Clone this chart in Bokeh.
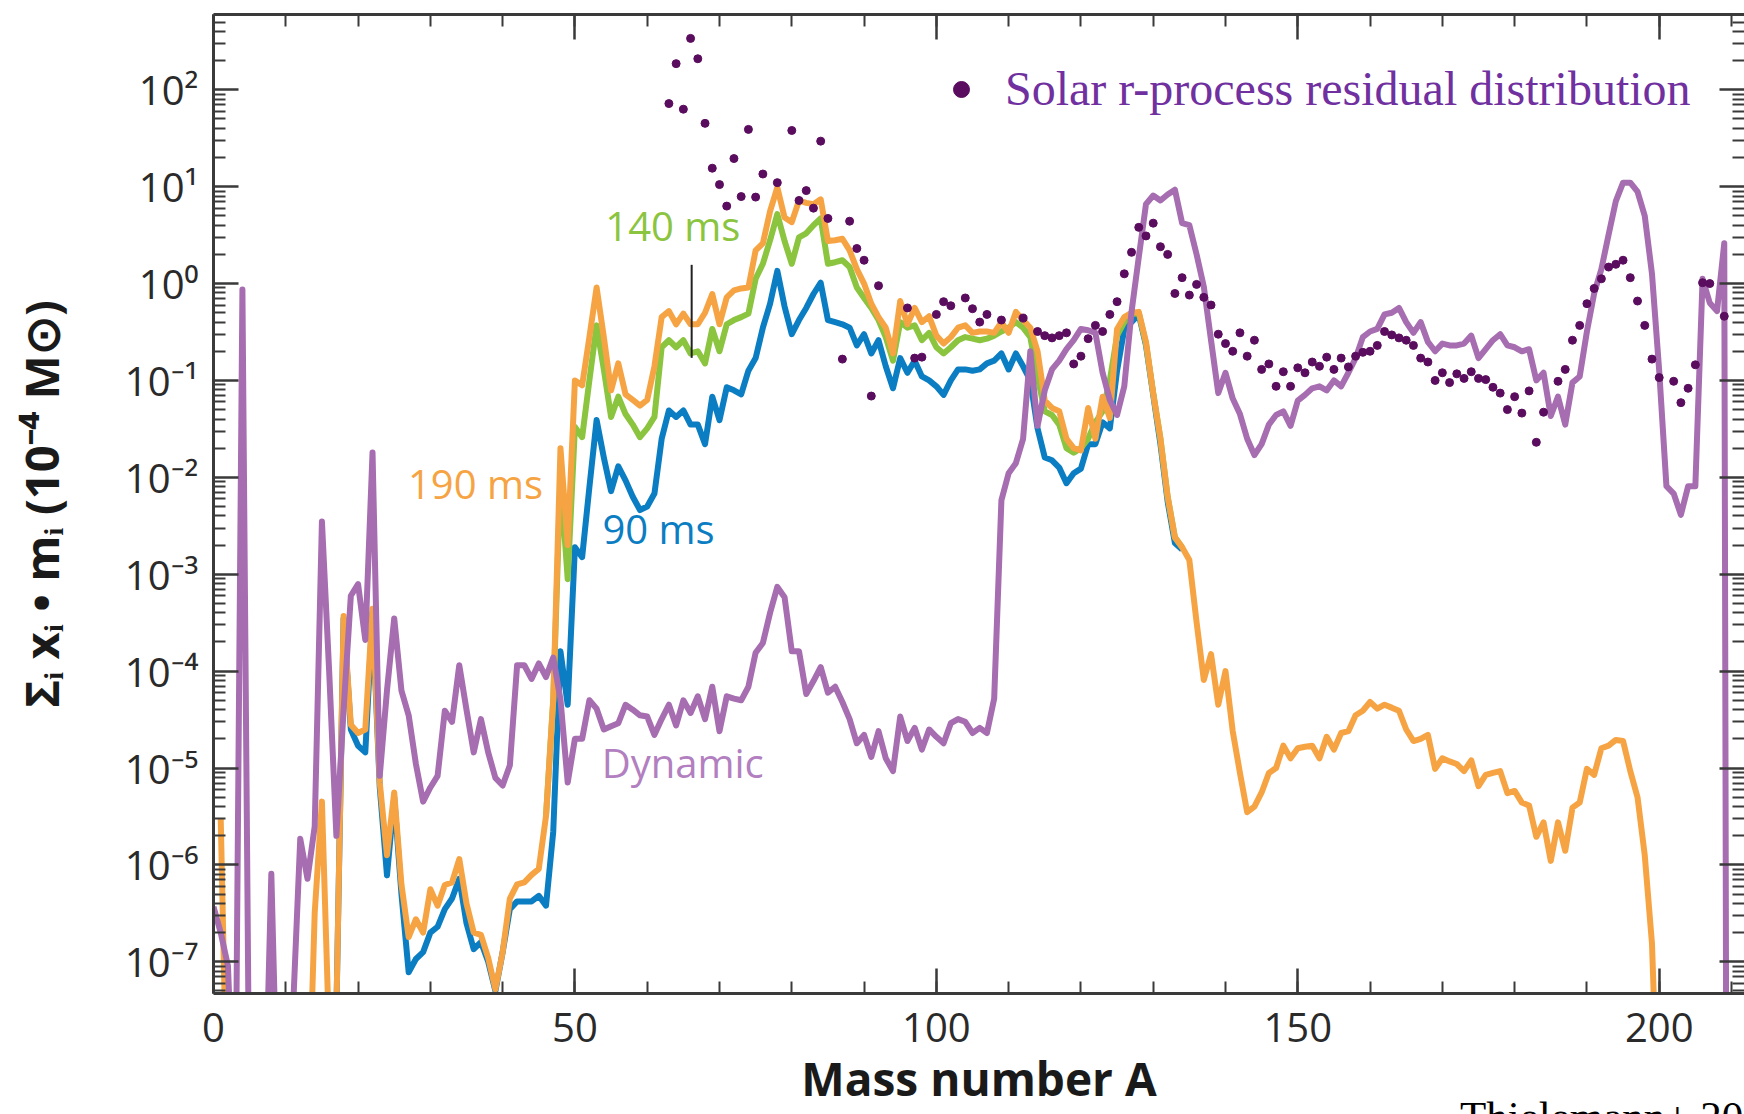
from math import pi
from bokeh.plotting import figure
from bokeh.layouts import column
from bokeh.models import Range1d, FixedTicker, LinearAxis, LogAxis, Label, Legend, LegendItem, Div
from bokeh.embed import file_html
from bokeh.resources import INLINE

# ---------------- data (mass number A, sum X_i m_i in 1e-4 Msun) ----------------
A_190 = [1, 2] + list(range(13, 201))
Y_190 = [3.0e-6, 1e-9,
         1e-9, 3.2e-7, 4.5e-6, 1.6e-8, 3e-8, 3.7e-4, 2.8e-5, 2.3e-5, 2.5e-5, 4.4e-4,
         7.1e-6, 1.26e-6, 5.6e-6, 6.3e-7, 1.8e-7, 2.75e-7, 2.0e-7, 5.6e-7, 3.8e-7, 6.2e-7,
         6.6e-7, 1.15e-6, 4.0e-7, 2.0e-7, 1.9e-7, 1.1e-7, 5.2e-8, 1.26e-7, 4.5e-7, 6.3e-7,
         6.6e-7, 7.9e-7, 9.1e-7, 3.2e-6, 5.0e-5, 2.0e-2, 2.0e-3, 0.10, 0.089, 0.28,
         0.91, 0.28, 0.079, 0.15, 0.072, 0.063, 0.055, 0.063, 0.14, 0.45,
         0.52, 0.38, 0.49, 0.38, 0.38, 0.50, 0.78, 0.38, 0.72, 0.85,
         0.89, 0.91, 2.2, 2.6, 5.6, 9.8, 4.8, 4.3, 7.2, 6.8,
         6.6, 7.4, 2.75, 2.8, 2.9, 2.2, 1.41, 1.0, 0.62, 0.45,
         0.35, 0.19, 0.66, 0.38, 0.56, 0.40, 0.46, 0.29, 0.24, 0.28,
         0.35, 0.37, 0.31, 0.32, 0.32, 0.31, 0.40, 0.31, 0.51, 0.42,
         0.35, 0.20, 0.062, 0.052, 0.048, 0.025, 0.020, 0.019, 0.052, 0.025,
         0.068, 0.041, 0.34, 0.45, 0.50, 0.51, 0.25, 0.074, 0.025, 0.0063,
         0.0024, 0.0019, 0.0014, 3.2e-4, 8.1e-5, 1.5e-4, 4.5e-5, 1.0e-4, 2.4e-5, 8.9e-6,
         3.5e-6, 4.0e-6, 5.6e-6, 8.9e-6, 1.0e-5, 1.7e-5, 1.26e-5, 1.6e-5, 1.66e-5, 1.7e-5,
         1.26e-5, 2.1e-5, 1.55e-5, 2.3e-5, 2.4e-5, 3.5e-5, 3.9e-5, 4.8e-5, 4.1e-5, 4.5e-5,
         4.2e-5, 3.9e-5, 2.5e-5, 1.9e-5, 2.0e-5, 2.2e-5, 9.8e-6, 1.26e-5, 1.17e-5, 1.1e-5,
         9.3e-6, 1.2e-5, 6.5e-6, 8.5e-6, 8.9e-6, 9.3e-6, 5.5e-6, 5.8e-6, 4.4e-6, 4.1e-6,
         1.95e-6, 2.75e-6, 1.1e-6, 2.75e-6, 1.4e-6, 3.9e-6, 4.4e-6, 9.8e-6, 8.5e-6, 1.6e-5,
         1.7e-5, 1.95e-5, 1.9e-5, 9.3e-6, 5.0e-6, 1.26e-6, 1.55e-7, 1e-9]

A_140 = list(range(46, 135))
Y_140 = [3.2e-6, 5.0e-5, 0.010, 8.9e-4, 0.033, 0.026, 0.10, 0.37, 0.13, 0.042,
         0.068, 0.045, 0.035, 0.026, 0.032, 0.042, 0.22, 0.26, 0.22, 0.26,
         0.19, 0.20, 0.15, 0.34, 0.20, 0.38, 0.42, 0.45, 0.49, 1.12,
         1.6, 2.8, 5.2, 2.75, 1.6, 3.0, 3.3, 4.0, 4.7, 1.6,
         1.66, 1.74, 1.48, 0.91, 0.71, 0.56, 0.42, 0.28, 0.16, 0.40,
         0.35, 0.37, 0.26, 0.31, 0.22, 0.19, 0.22, 0.26, 0.28, 0.27,
         0.26, 0.27, 0.29, 0.32, 0.35, 0.40, 0.35, 0.28, 0.11, 0.048,
         0.044, 0.035, 0.020, 0.018, 0.020, 0.025, 0.037, 0.048, 0.10, 0.29,
         0.40, 0.48, 0.50, 0.24, 0.074, 0.025, 0.0063, 0.0024, 0.0019]

A_90 = list(range(17, 135))
Y_90 = [3e-8, 3.5e-4, 2.5e-5, 1.7e-5, 1.45e-5, 4.0e-4, 6.3e-6, 7.8e-7, 5.0e-6, 5.0e-7,
        7.8e-8, 1.07e-7, 1.26e-7, 2.0e-7, 2.3e-7, 3.5e-7, 4.5e-7, 7.2e-7, 2.5e-7, 1.35e-7,
        1.6e-7, 1.0e-7, 5.0e-8, 1.26e-7, 3.5e-7, 4.2e-7, 4.2e-7, 4.2e-7, 4.8e-7, 3.8e-7,
        2.2e-6, 1.6e-4, 4.5e-5, 1.9e-3, 1.5e-3, 7.9e-3, 0.039, 0.016, 7.2e-3, 0.013,
        9.3e-3, 6.3e-3, 4.6e-3, 5.0e-3, 6.8e-3, 0.025, 0.049, 0.042, 0.049, 0.035,
        0.035, 0.022, 0.068, 0.039, 0.085, 0.079, 0.072, 0.126, 0.17, 0.35,
        0.62, 1.35, 0.58, 0.30, 0.42, 0.56, 0.78, 1.02, 0.42, 0.40,
        0.38, 0.35, 0.23, 0.30, 0.19, 0.26, 0.14, 0.083, 0.17, 0.12,
        0.16, 0.11, 0.10, 0.087, 0.071, 0.10, 0.13, 0.13, 0.126, 0.13,
        0.15, 0.16, 0.19, 0.13, 0.19, 0.14, 0.10, 0.032, 0.016, 0.015,
        0.0126, 0.0087, 0.011, 0.0123, 0.022, 0.022, 0.037, 0.032, 0.126, 0.34,
        0.40, 0.48, 0.23, 0.071, 0.022, 0.0056, 0.0021, 0.0018]

A_dyn = [0, 1, 2, 3, 4, 5, 7, 8, 9, 10] + list(range(11, 210)) + [209.3]
Y_dyn = [3.7e-7, 2.0e-7, 9.1e-8, 1e-9, 0.87, 1e-9, 1e-9, 8.1e-7, 1e-9, 1e-9,
         3.2e-8, 1.86e-6, 7.2e-7, 2.5e-6, 3.5e-3, 1.0e-4, 2.0e-6, 4.0e-5, 6.0e-4, 7.9e-4,
         2.1e-4, 0.018, 8.3e-6, 6.3e-5, 3.5e-4, 6.3e-5, 3.5e-5, 1.1e-5, 4.5e-6, 6.3e-6,
         8.3e-6, 3.9e-5, 3.0e-5, 1.15e-4, 4.0e-5, 1.45e-5, 3.2e-5, 1.45e-5, 7.9e-6, 6.6e-6,
         1.07e-5, 1.15e-4, 1.15e-4, 8.3e-5, 1.2e-4, 8.7e-5, 1.38e-4, 5.1e-5, 7.1e-6, 2.0e-5,
         2.0e-5, 5.0e-5, 4.1e-5, 2.5e-5, 2.7e-5, 2.9e-5, 4.5e-5, 4.0e-5, 3.5e-5, 3.4e-5,
         2.2e-5, 3.2e-5, 4.5e-5, 2.75e-5, 5.0e-5, 3.7e-5, 5.5e-5, 3.2e-5, 6.9e-5, 2.4e-5,
         5.5e-5, 5.2e-5, 5.0e-5, 6.9e-5, 1.55e-4, 1.95e-4, 4.0e-4, 7.4e-4, 5.8e-4, 1.6e-4,
         1.6e-4, 5.8e-5, 7.9e-5, 1.1e-4, 6.0e-5, 6.9e-5, 4.8e-5, 3.2e-5, 1.8e-5, 2.2e-5,
         1.3e-5, 2.4e-5, 1.26e-5, 9.3e-6, 3.4e-5, 1.9e-5, 2.6e-5, 1.55e-5, 2.5e-5, 2.1e-5,
         1.8e-5, 2.9e-5, 3.2e-5, 3.0e-5, 2.3e-5, 2.6e-5, 2.3e-5, 5.2e-5, 5.8e-3, 0.011,
         0.014, 0.025, 0.20, 0.034, 0.079, 0.13, 0.16, 0.21, 0.26, 0.34,
         0.33, 0.31, 0.12, 0.063, 0.044, 0.087, 0.51, 1.86, 6.6, 8.1,
         7.2, 8.3, 9.3, 4.2, 4.0, 2.0, 0.93, 0.26, 0.074, 0.12,
         0.065, 0.045, 0.025, 0.017, 0.022, 0.035, 0.044, 0.048, 0.034, 0.062,
         0.071, 0.083, 0.087, 0.079, 0.10, 0.087, 0.12, 0.17, 0.28, 0.32,
         0.34, 0.48, 0.50, 0.56, 0.40, 0.31, 0.40, 0.25, 0.20, 0.24,
         0.23, 0.23, 0.24, 0.29, 0.17, 0.21, 0.26, 0.30, 0.23, 0.22,
         0.20, 0.21, 0.10, 0.12, 0.043, 0.068, 0.035, 0.095, 0.11, 0.32,
         0.79, 1.41, 3.2, 7.1, 11.0, 11.0, 8.9, 5.0, 1.26, 0.126,
         0.0081, 0.0068, 0.0041, 0.0081, 0.0081, 1.12, 0.63, 0.52, 2.6, 1e-9]

A_solar = [63, 64, 65, 66, 67, 68, 69, 70, 71, 72, 73, 74, 75, 76, 78, 80, 81, 82, 83, 84,
           85, 87, 88, 89, 90, 91, 92, 96, 97, 98, 100, 101, 102, 104, 105, 106, 107, 109, 112, 114,
           115, 116, 117, 118, 119, 120, 121, 122, 123, 124, 125, 126, 127, 128, 129, 130, 131, 132, 133, 134,
           135, 136, 137, 138, 139, 140, 141, 142, 143, 144, 145, 146, 147, 148, 149, 150, 151, 152, 153, 154,
           155, 156, 157, 158, 159, 160, 161, 162, 163, 164, 165, 166, 167, 168, 169, 170, 171, 172, 173, 174,
           175, 176, 177, 178, 179, 180, 181, 182, 183, 184, 186, 187, 188, 189, 190, 191, 192, 193, 194, 195,
           196, 197, 198, 199, 200, 202, 203, 204, 205, 206, 207, 209]
Y_solar = [72, 186, 63, 339, 209, 45, 15.5, 10.5, 6.3, 19.5, 7.9, 39, 7.8, 13.5, 11.0, 38, 7.2, 9.1, 6.0, 29.5,
           4.7, 0.166, 4.4, 2.3, 1.74, 0.069, 0.95, 0.56, 0.17, 0.174, 0.48, 0.65, 0.59, 0.71, 0.55, 0.40, 0.48, 0.42, 0.44, 0.32,
           0.29, 0.275, 0.29, 0.31, 0.148, 0.178, 0.27, 0.37, 0.32, 0.48, 0.65, 1.26, 2.1, 3.8, 3.1, 4.2, 2.4, 2.0, 0.79, 1.15,
           0.76, 0.98, 0.72, 0.60, 0.30, 0.24, 0.20, 0.31, 0.178, 0.26, 0.13, 0.148, 0.087, 0.123, 0.087, 0.135, 0.12, 0.155, 0.14, 0.174,
           0.13, 0.17, 0.138, 0.178, 0.195, 0.20, 0.23, 0.32, 0.295, 0.275, 0.26, 0.23, 0.17, 0.155, 0.10, 0.12, 0.095, 0.117, 0.105, 0.123,
           0.105, 0.102, 0.085, 0.074, 0.05, 0.068, 0.046, 0.078, 0.023, 0.047, 0.098, 0.13, 0.26, 0.37, 0.62, 0.89, 1.12, 1.48, 1.58, 1.74,
           1.15, 0.66, 0.37, 0.166, 0.107, 0.098, 0.059, 0.083, 0.145, 1.02, 1.0, 0.46]

x_major = [0, 50, 100, 150, 200]
x_minor = list(range(0, 220, 10))
y_major = [1e-7, 1e-6, 1e-5, 1e-4, 1e-3, 1e-2, 1e-1, 1.0, 10.0, 100.0]
y_labels = ["10\u207b\u2077", "10\u207b\u2076", "10\u207b\u2075", "10\u207b\u2074", "10\u207b\u00b3",
            "10\u207b\u00b2", "10\u207b\u00b9", "10\u2070", "10\u00b9", "10\u00b2"]
y_minor = [m * 10.0 ** e for e in range(-8, 3) for m in range(2, 10)]

# leader line from "140 ms" label to the green curve
lead_A = 66.15
lead_y0, lead_y1 = 0.171, 1.56

C_BLUE = "#0b7dc2"
C_GREEN = "#8bc43f"
C_ORANGE = "#f6a443"
C_DYN = "#a66db0"
C_SOLAR = "#5a0c5e"
C_AX = "#3a3a3a"
FONT = "Open Sans"

fig = figure(width=1744, height=1114, y_axis_type="log",
             x_range=Range1d(0, 211.8), y_range=Range1d(4.71e-8, 598.0),
             output_backend="svg", toolbar_location=None,
             min_border_left=213, min_border_right=0, min_border_top=14, min_border_bottom=121)
fig.outline_line_color = None
fig.grid.visible = False
fig.background_fill_color = "white"
fig.border_fill_color = "white"

xt = FixedTicker(ticks=x_major, minor_ticks=x_minor)
yt = FixedTicker(ticks=y_major, minor_ticks=y_minor)


def style(ax):
    ax.axis_line_color = C_AX
    ax.axis_line_width = 3
    ax.major_tick_line_color = C_AX
    ax.major_tick_line_width = 2.5
    ax.minor_tick_line_color = C_AX
    ax.minor_tick_line_width = 2
    ax.major_tick_in = 25
    ax.major_tick_out = 0
    ax.minor_tick_in = 12
    ax.minor_tick_out = 0
    ax.major_label_text_font = FONT
    ax.major_label_text_font_size = "40px"
    ax.major_label_text_color = "#2a2a2a"
    ax.axis_label_text_font = FONT
    ax.axis_label_text_font_style = "bold"
    ax.axis_label_text_color = "#1a1a1a"


def hide_labels(ax):
    ax.major_label_text_font_size = "1px"
    ax.major_label_text_alpha = 0
    ax.major_label_text_color = None
    ax.major_label_standoff = 0


xa = fig.xaxis[0]
xa.ticker = xt
style(xa)
xa.major_label_standoff = 19
xa.axis_label = "Mass number A"
xa.axis_label_text_font_size = "46px"
xa.axis_label_standoff = 2

ya = fig.yaxis[0]
ya.ticker = yt
style(ya)
ya.major_label_standoff = 15
ya.major_label_overrides = {v: s for v, s in zip(y_major, y_labels)}
ya.axis_label = "\u03a3\u1d62 x\u1d62 \u2022 m\u1d62 (10\u207b\u2074 M\u2299)"
ya.axis_label_text_font_size = "47px"
ya.axis_label_standoff = 49

top = LinearAxis(ticker=xt)
style(top)
hide_labels(top)
fig.add_layout(top, "above")

right = LogAxis(ticker=yt)
style(right)
right.axis_line_color = None
hide_labels(right)
fig.add_layout(right, "right")

lw = 6
fig.line(A_90, Y_90, line_color=C_BLUE, line_width=lw, line_join="round")
fig.line(A_140, Y_140, line_color=C_GREEN, line_width=lw, line_join="round")
fig.line(A_190, Y_190, line_color=C_ORANGE, line_width=lw, line_join="round")
fig.line(A_dyn, Y_dyn, line_color=C_DYN, line_width=lw, line_join="round")
dots = fig.scatter(A_solar, Y_solar, size=8, marker="circle", fill_color=C_SOLAR, line_color=C_SOLAR)

fig.segment(x0=[lead_A], y0=[lead_y0], x1=[lead_A], y1=[lead_y1], line_color="#222222", line_width=2)

legend = Legend(items=[LegendItem(label="Solar r-process residual distribution", renderers=[dots])],
                location=(728, 877), padding=0, margin=0, spacing=0,
                glyph_width=40, glyph_height=40, label_standoff=24,
                border_line_color=None, background_fill_alpha=0,
                label_text_font="Liberation Serif", label_text_font_size="48px",
                label_text_color="#7030a0")
fig.add_layout(legend)


def lab(x, y, text, color, size="40px", font=FONT, style="normal", **kw):
    fig.add_layout(Label(x=x, y=y, text=text, text_color=color, text_font=font,
                         text_font_size=size, text_font_style=style, **kw))


lab(54.2, 2.09, "140 ms", C_GREEN)
lab(53.8, 1.56e-3, "90 ms", C_BLUE)
lab(26.9, 4.46e-3, "190 ms", C_ORANGE)
lab(53.7, 5.97e-6, "Dynamic", "#b27fc0")

# source note at the bottom right; like the reference, only its top shows at the window's lower edge
note = Div(text="Thielemann+ 2017", width=284, height=20, margin=(-20, 0, 0, 1460),
           styles={"font-family": "Liberation Serif", "font-size": "43px", "line-height": "46px",
                   "white-space": "nowrap", "overflow": "hidden", "color": "#000000"})

p = column(fig, note, spacing=0)
open("out.html", "w").write(file_html(p, INLINE))
